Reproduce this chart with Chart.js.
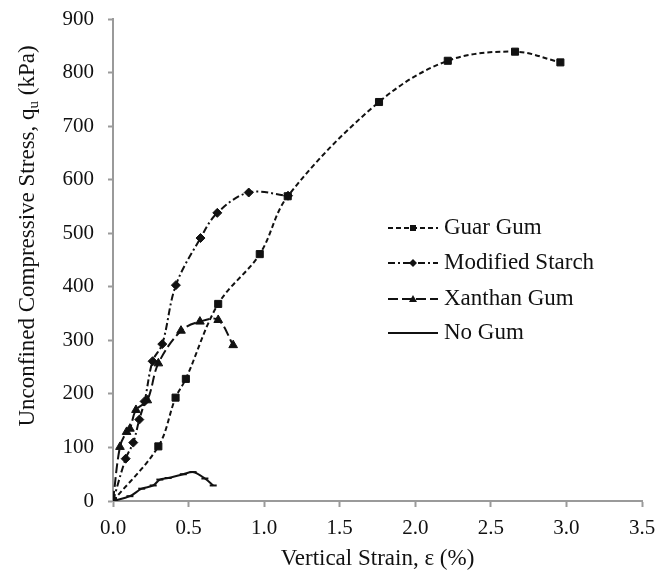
<!DOCTYPE html>
<html>
<head>
<meta charset="utf-8">
<script src="https://cdn.jsdelivr.net/npm/chart.js@4/dist/chart.umd.min.js"></script>
<style>
  html, body { margin: 0; padding: 0; background: #fff; }
  #wrap { width: 657px; height: 581px; }
</style>
</head>
<body>
<div id="wrap"><canvas id="ucsChart" width="657" height="581"></canvas></div>
<script>
// values (strain %, stress kPa)
const guarStrain = [0, 0.30, 0.414, 0.482, 0.696, 0.971, 1.156, 1.76, 2.215, 2.66, 2.96];
const guarStress = [0, 102, 193, 228, 368, 461, 569, 745, 822, 839, 819];

const starchStrain = [0, 0.084, 0.134, 0.174, 0.209, 0.262, 0.326, 0.416, 0.579, 0.69, 0.898, 1.158];
const starchStress = [0, 79, 109, 152, 186, 261, 293, 403, 491, 538, 576, 570];

const xanthanStrain = [0, 0.046, 0.09, 0.112, 0.152, 0.227, 0.30, 0.45, 0.575, 0.696, 0.795];
const xanthanStress = [0, 101, 129, 135, 170, 188, 257, 318, 335, 338, 291];

const noGumStrain = [0, 0.112, 0.19, 0.266, 0.31, 0.365, 0.465, 0.53, 0.608, 0.663];
const noGumStress = [0, 9, 23, 29, 40, 43, 50, 54, 42, 29];

const seriesNames = ["Guar Gum", "Modified Starch", "Xanthan Gum", "No Gum"];
const xTicks = [0, 0.5, 1, 1.5, 2, 2.5, 3, 3.5];

const ink = "#111";
const axisGray = "#9a9a9a";
const serif = "'Liberation Serif', 'Times New Roman', serif";

function pairs(xs, ys) {
  return xs.map((x, i) => ({ x: x, y: ys[i] }));
}

function series(name, xs, ys, dash, style, radius) {
  return {
    label: name,
    data: pairs(xs, ys),
    showLine: true,
    tension: 0.35,
    borderColor: ink,
    backgroundColor: ink,
    borderWidth: 2,
    borderDash: dash,
    pointStyle: style,
    pointRadius: radius,
    pointBorderWidth: style === "line" ? 2 : 1,
    pointBorderColor: ink,
    pointBackgroundColor: ink,
  };
}

const datasets = [
  series(seriesNames[0], guarStrain, guarStress, [5, 3], "rect", 5),
  series(seriesNames[1], starchStrain, starchStress, [7, 3, 2, 3], "rectRot", 4.5),
  series(seriesNames[2], xanthanStrain, xanthanStress, [10, 4], "triangle", 5),
  series(seriesNames[3], noGumStrain, noGumStress, [], "line", 3.5),
];

// y axis title with a real subscript, and the legend inside the plot
const extras = {
  id: "extras",
  afterDraw(chart) {
    const ctx = chart.ctx;
    ctx.save();
    ctx.fillStyle = ink;

    // y title
    ctx.translate(28, 236);
    ctx.rotate(-Math.PI / 2);
    const a = "Unconfined Compressive Stress, q";
    const b = "u";
    const c = " (kPa)";
    ctx.font = "23px " + serif;
    const wa = ctx.measureText(a).width;
    const wc = ctx.measureText(c).width;
    ctx.font = "15px " + serif;
    const wb = ctx.measureText(b).width;
    let x0 = -(wa + wb + wc) / 2;
    ctx.textBaseline = "middle";
    ctx.textAlign = "left";
    ctx.font = "23px " + serif;
    ctx.fillText(a, x0, 0);
    ctx.font = "15px " + serif;
    ctx.fillText(b, x0 + wa, 6);
    ctx.font = "23px " + serif;
    ctx.fillText(c, x0 + wa + wb, 0);
    ctx.restore();

    // legend
    const rows = [228, 263, 299, 333];
    chart.data.datasets.forEach((ds, i) => {
      const y = rows[i];
      ctx.save();
      ctx.strokeStyle = ink;
      ctx.lineWidth = 2;
      ctx.setLineDash(ds.borderDash);
      ctx.beginPath();
      ctx.moveTo(388, y);
      ctx.lineTo(438, y);
      ctx.stroke();
      ctx.setLineDash([]);
      const mx = 413;
      ctx.fillStyle = ink;
      if (ds.pointStyle === "rect") {
        ctx.fillRect(mx - 3, y - 3, 6, 6);
      } else if (ds.pointStyle === "rectRot") {
        ctx.beginPath();
        ctx.moveTo(mx, y - 4); ctx.lineTo(mx + 4, y); ctx.lineTo(mx, y + 4); ctx.lineTo(mx - 4, y);
        ctx.closePath(); ctx.fill();
      } else if (ds.pointStyle === "triangle") {
        ctx.beginPath();
        ctx.moveTo(mx, y - 4); ctx.lineTo(mx + 4, y + 3); ctx.lineTo(mx - 4, y + 3);
        ctx.closePath(); ctx.fill();
      }
      ctx.font = "23px " + serif;
      ctx.textBaseline = "middle";
      ctx.textAlign = "left";
      ctx.fillText(ds.label, 444, y);
      ctx.restore();
    });
  },
};

const ctx = document.getElementById("ucsChart").getContext("2d");

new Chart(ctx, {
  type: "scatter",
  data: { datasets: datasets },
  options: {
    responsive: false,
    animation: false,
    layout: { padding: { left: 0, right: 15, top: 19, bottom: 0 } },
    plugins: {
      legend: { display: false },
      tooltip: { enabled: false },
    },
    scales: {
      x: {
        type: "linear",
        min: 0,
        max: 3.5,
        afterBuildTicks: (scale) => {
          scale.ticks = xTicks.map((v) => ({ value: v }));
        },
        afterFit: (scale) => {
          scale.height = 80;
          scale.paddingLeft = 0;
          scale.paddingRight = 0;
        },
        ticks: {
          color: ink,
          font: { family: serif, size: 21 },
          padding: 9,
          callback: (v) => Number(v).toFixed(1),
        },
        grid: {
          display: true,
          drawOnChartArea: false,
          drawTicks: true,
          tickLength: 6,
          tickWidth: 2,
          tickColor: axisGray,
        },
        border: { display: true, color: axisGray, width: 2 },
        title: {
          display: true,
          text: "Vertical Strain, ε (%)",
          color: ink,
          font: { family: serif, size: 23 },
          padding: { top: 0, bottom: 8 },
        },
      },
      y: {
        type: "linear",
        min: 0,
        max: 900,
        ticks: {
          stepSize: 100,
          color: ink,
          font: { family: serif, size: 21 },
          padding: 14,
        },
        afterFit: (scale) => {
          scale.width = 113;
          scale.paddingTop = 0;
          scale.paddingBottom = 0;
        },
        grid: {
          display: true,
          drawOnChartArea: false,
          drawTicks: true,
          tickLength: 5,
          tickWidth: 2,
          tickColor: axisGray,
        },
        border: { display: true, color: axisGray, width: 2 },
      },
    },
  },
  plugins: [extras],
});
</script>
</body>
</html>
